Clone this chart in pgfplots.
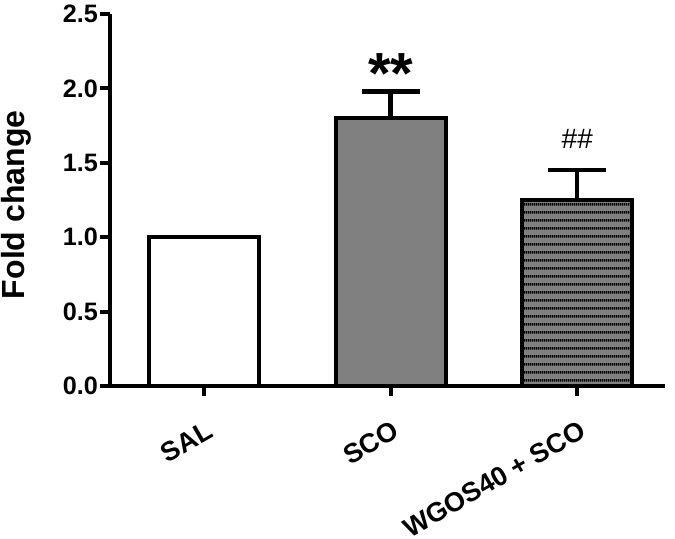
\documentclass[border=0pt]{standalone}
\usepackage{fontspec}
\setmainfont{Liberation Sans}
\usepackage{pgfplots}
\pgfplotsset{compat=1.18}
\usetikzlibrary{patterns}
\pgfdeclarepatternformonly{hlines}{\pgfpoint{0pt}{0pt}}{\pgfpoint{1pt}{3.85pt}}{\pgfpoint{1pt}{3.85pt}}{%
  \pgfsetlinewidth{1.3pt}%
  \pgfpathmoveto{\pgfpoint{-0.1pt}{1.9pt}}%
  \pgfpathlineto{\pgfpoint{1.1pt}{1.9pt}}%
  \pgfusepath{stroke}}
\definecolor{bargray}{RGB}{128,128,128}
\begin{document}
\begin{tikzpicture}
\begin{axis}[
  at={(0pt,0pt)}, anchor=south west,
  scale only axis,
  width=277.5pt, height=186pt,
  xmin=-0.504, xmax=2.47,
  ymin=0, ymax=2.5,
  axis lines=left,
  axis line style={line width=2pt, -},
  ytick={0,0.5,1,1.5,2,2.5},
  xtick={0,1,2},
  xticklabels={SAL,SCO,WGOS40 + SCO},
  tick align=outside,
  major tick length=5pt,
  tick style={line width=2pt, black},
  ticklabel style={font=\fontsize{12.6}{15}\selectfont\bfseries},
  yticklabel style={xshift=2.5pt, /pgf/number format/.cd, fixed, fixed zerofill, precision=1, assume math mode=true},
  xticklabel style={font=\fontsize{13.5}{15}\selectfont\bfseries, rotate=30, anchor=north east, yshift=-7pt, xshift=-2pt},
  ylabel={Fold change},
  ylabel style={font=\fontsize{16}{18}\selectfont\bfseries, at={(axis description cs:-0.168,0.487)}, anchor=center},
  ybar, bar width=0.59, bar shift=0pt,
  error bars/y dir=plus, error bars/y explicit,
  error bars/error bar style={line width=2.2pt, black},
  error bars/error mark options={rotate=90, mark size=14.5pt, line width=2.2pt, black},
  clip=false,
]
\addplot[draw=black, line width=2pt, fill=white] coordinates {(0,1.0)};
\addplot[draw=black, line width=2pt, fill=bargray] coordinates {(1,1.80) +- (0,0.18)};
\addplot[draw=black, line width=2pt, fill=bargray, postaction={pattern=hlines}] coordinates {(2,1.25) +- (0,0.20)};
\node[font=\fontsize{29}{31}\selectfont\bfseries] at (axis cs:1,2.10) {**};
\node[font=\fontsize{14}{16}\selectfont] at (axis cs:2.0,1.66) {\#\#};
\end{axis}
\pgfresetboundingbox
\path[use as bounding box] (-55pt,-76pt) rectangle (282.5pt,193pt);
\end{tikzpicture}
\end{document}
